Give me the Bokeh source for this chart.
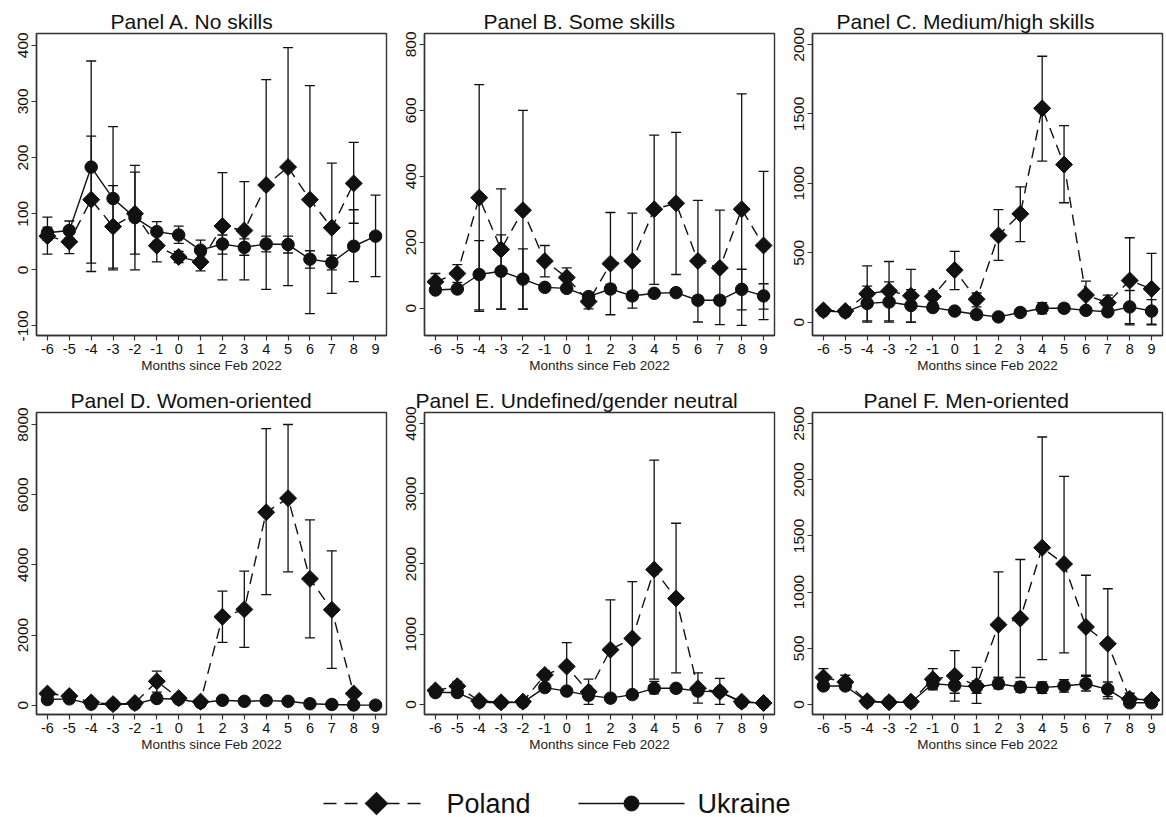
import math
from bokeh.plotting import figure
from bokeh.layouts import gridplot, column
from bokeh.models import (ColumnDataSource, Whisker, TeeHead, FixedTicker, Range1d)
from bokeh.core.properties import value
from bokeh.embed import file_html
from bokeh.resources import INLINE

nan = float("nan")
months = list(range(-6, 10))

# Panel A. No skills
a_pol = [60, 50, 125, 77, 100, 43, 23, 14, 78, 70, 151, 183, 125, 75, 154, nan]
a_pol_lo = [28, 29, 12, 3, 28, 14, 13, -2, -18, -18, -35, -28, -78, -42, 83, nan]
a_pol_hi = [94, 75, 238, 150, 174, 72, 33, 30, 173, 157, 339, 396, 328, 190, 227, nan]
a_ukr = [66, 70, 183, 127, 93, 68, 62, 35, 46, 40, 46, 45, 19, 13, 42, 60]
a_ukr_lo = [53, 57, -3, 0, 0, 50, 47, 18, 28, 26, 32, 30, 3, 0, -21, -12]
a_ukr_hi = [76, 87, 372, 255, 186, 86, 78, 53, 62, 55, 60, 60, 34, 26, 107, 133]

# Panel B. Some skills
b_pol = [80, 105, 335, 178, 297, 143, 93, 20, 135, 143, 300, 318, 143, 122, 300, 190]
b_pol_lo = [60, 78, -5, -3, -3, 95, 65, -2, -20, 0, 72, 102, -42, -50, -52, -35]
b_pol_hi = [105, 132, 678, 362, 600, 190, 122, 40, 290, 288, 525, 533, 327, 297, 650, 415]
b_ukr = [55, 58, 102, 112, 88, 63, 60, 35, 58, 37, 45, 47, 24, 24, 57, 37]
b_ukr_lo = [48, 50, -10, -3, -3, 55, 50, 25, 45, 25, 38, 40, 12, 12, -5, -3]
b_ukr_hi = [62, 66, 205, 222, 180, 70, 68, 45, 72, 50, 52, 54, 36, 36, 118, 74]

# Panel C. Medium/high skills
c_pol = [85, 80, 205, 225, 190, 185, 375, 165, 625, 780, 1540, 1135, 195, 140, 300, 240]
c_pol_lo = [65, 60, 0, 10, 0, 140, 235, 110, 445, 580, 1160, 860, 100, 90, -10, -20]
c_pol_hi = [105, 100, 405, 437, 380, 225, 510, 210, 810, 975, 1915, 1415, 295, 195, 608, 495]
c_ukr = [80, 72, 135, 145, 120, 105, 80, 55, 38, 70, 100, 100, 85, 75, 110, 80]
c_ukr_lo = [65, 58, 10, 0, 0, 85, 65, 45, 28, 50, 60, 70, 70, 60, -20, -15]
c_ukr_hi = [95, 86, 260, 290, 235, 125, 95, 65, 48, 90, 140, 130, 100, 90, 228, 163]

# Panel D. Women-oriented
d_pol = [330, 260, 80, 30, 60, 680, 200, 100, 2520, 2730, 5500, 5900, 3600, 2720, 330, nan]
d_pol_lo = [250, 180, 30, 10, 20, 370, 120, 40, 1790, 1650, 3150, 3800, 1920, 1050, 250, nan]
d_pol_hi = [410, 340, 130, 50, 100, 970, 280, 160, 3250, 3820, 7880, 8000, 5280, 4400, 410, nan]
d_ukr = [160, 180, 30, 20, 30, 190, 170, 70, 140, 110, 130, 110, 40, 20, 5, 0]
d_ukr_lo = [130, 150, 15, 10, 15, 150, 130, 50, 110, 80, 100, 80, 25, 10, 0, -5]
d_ukr_hi = [190, 210, 45, 30, 45, 230, 210, 90, 170, 140, 160, 140, 55, 30, 10, 5]

# Panel E. Undefined/gender neutral
e_pol = [200, 260, 50, 30, 40, 420, 540, 180, 780, 940, 1920, 1510, 230, 180, 40, 20]
e_pol_lo = [150, 200, 20, 15, 20, 350, 200, 0, 60, 180, 360, 450, 20, 0, 20, 10]
e_pol_hi = [250, 330, 80, 45, 60, 480, 880, 360, 1490, 1750, 3480, 2580, 450, 370, 60, 30]
e_ukr = [170, 170, 30, 25, 30, 240, 190, 130, 90, 140, 230, 230, 190, 180, 30, 20]
e_ukr_lo = [140, 140, 15, 15, 15, 200, 150, 90, 60, 100, 150, 180, 150, 140, 15, 10]
e_ukr_hi = [200, 200, 45, 35, 45, 280, 230, 170, 120, 180, 330, 280, 230, 220, 45, 30]

# Panel F. Men-oriented
f_pol = [240, 200, 30, 20, 25, 225, 255, 165, 710, 765, 1395, 1250, 690, 540, 50, 40]
f_pol_lo = [170, 140, 15, 10, 15, 140, 30, 10, 240, 240, 400, 460, 260, 50, 10, 10]
f_pol_hi = [320, 260, 45, 30, 35, 320, 480, 330, 1180, 1290, 2380, 2030, 1150, 1030, 100, 70]
f_ukr = [165, 165, 25, 20, 20, 185, 170, 155, 185, 155, 150, 165, 185, 135, 15, 15]
f_ukr_lo = [140, 140, 15, 10, 10, 130, 100, 100, 140, 110, 100, 110, 120, 70, 5, 5]
f_ukr_hi = [190, 190, 35, 30, 30, 240, 240, 210, 240, 200, 200, 220, 250, 200, 25, 25]

titles = ["Panel A. No skills", "Panel B. Some skills", "Panel C. Medium/high skills",
          "Panel D. Women-oriented", "Panel E. Undefined/gender neutral", "Panel F. Men-oriented"]
y_ticks = [[-100, 0, 100, 200, 300, 400], [0, 200, 400, 600, 800], [0, 500, 1000, 1500, 2000],
           [0, 2000, 4000, 6000, 8000], [0, 1000, 2000, 3000, 4000], [0, 500, 1000, 1500, 2000, 2500]]
y_ranges = [(-117, 421), (-83, 833), (-96, 2079), (-266, 8342), (-143, 4157), (-89, 2598)]
x_label = "Months since Feb 2022"
legend_labels = ["Poland", "Ukraine"]

# layout styling (title left offsets from frame edge, in px)
title_offsets = [74, 59, 24, 34, -9, 51]

FONT = "Liberation Sans"
INK = "#111111"


def src(x, y, lo, hi):
    keep = [i for i in range(len(x)) if not math.isnan(y[i])]
    return ColumnDataSource(dict(x=[x[i] for i in keep], y=[y[i] for i in keep],
                                 lo=[lo[i] for i in keep], hi=[hi[i] for i in keep]))


def panel(idx, pol, pol_lo, pol_hi, ukr, ukr_lo, ukr_hi, top_row):
    h = 385 if top_row else 375
    mt = 33 if top_row else 27
    p = figure(width=388, height=h, x_range=Range1d(-6.5, 9.5), y_range=Range1d(*y_ranges[idx]),
               output_backend="svg", toolbar_location=None,
               min_border_left=36, min_border_right=2, min_border_top=mt, min_border_bottom=h - mt - 302)
    p.title.text = titles[idx]
    p.title.align = "left"
    p.title.offset = title_offsets[idx]
    p.title.text_font = FONT
    p.title.text_font_size = "21px"
    p.title.text_font_style = "normal"
    p.title.text_color = INK
    p.title.standoff = 2
    p.grid.visible = False
    p.outline_line_color = "#333333"
    p.outline_line_width = 1.4
    p.background_fill_color = "white"
    p.border_fill_color = "white"

    for ax in (p.xaxis[0], p.yaxis[0]):
        ax.axis_line_color = "#333333"
        ax.axis_line_width = 1.4
        ax.major_tick_line_color = "#333333"
        ax.major_tick_line_width = 1.2
        ax.major_tick_out = 5
        ax.major_tick_in = 0
        ax.minor_tick_line_color = None
        ax.major_label_text_font = FONT
        ax.major_label_text_color = INK
        ax.major_label_standoff = 3
    p.xaxis.major_label_text_font_size = "14.5px"
    p.yaxis.major_label_text_font_size = "15.5px"
    p.xaxis.ticker = FixedTicker(ticks=months)
    p.xaxis.major_label_overrides = {m: str(m) for m in months}
    p.yaxis.ticker = FixedTicker(ticks=y_ticks[idx])
    p.yaxis.major_label_overrides = {t: str(t) for t in y_ticks[idx]}
    p.yaxis.major_label_orientation = "vertical"
    p.xaxis.axis_label = x_label
    p.xaxis.axis_label_text_font = FONT
    p.xaxis.axis_label_text_font_size = "13.5px"
    p.xaxis.axis_label_text_font_style = "normal"
    p.xaxis.axis_label_text_color = "#222222"
    p.xaxis.axis_label_standoff = 1

    sp = src(months, pol, pol_lo, pol_hi)
    su = src(months, ukr, ukr_lo, ukr_hi)
    for s in (sp, su):
        w = Whisker(source=s, base="x", lower="lo", upper="hi", dimension="height",
                    line_color=INK, line_width=1.3,
                    upper_head=TeeHead(size=10, line_color=INK, line_width=1.3),
                    lower_head=TeeHead(size=10, line_color=INK, line_width=1.3))
        p.add_layout(w)
    p.line("x", "y", source=sp, line_color=INK, line_width=1.4, line_dash="11 7")
    p.line("x", "y", source=su, line_color=INK, line_width=1.4)
    p.scatter("x", "y", source=sp, marker="square", angle=math.pi / 4, size=12,
              fill_color=INK, line_color=INK)
    p.scatter("x", "y", source=su, marker="circle", size=12.5, fill_color=INK, line_color=INK)
    return p


pa = panel(0, a_pol, a_pol_lo, a_pol_hi, a_ukr, a_ukr_lo, a_ukr_hi, True)
pb = panel(1, b_pol, b_pol_lo, b_pol_hi, b_ukr, b_ukr_lo, b_ukr_hi, True)
pc = panel(2, c_pol, c_pol_lo, c_pol_hi, c_ukr, c_ukr_lo, c_ukr_hi, True)
pd = panel(3, d_pol, d_pol_lo, d_pol_hi, d_ukr, d_ukr_lo, d_ukr_hi, False)
pe = panel(4, e_pol, e_pol_lo, e_pol_hi, e_ukr, e_ukr_lo, e_ukr_hi, False)
pf = panel(5, f_pol, f_pol_lo, f_pol_hi, f_ukr, f_ukr_lo, f_ukr_hi, False)

# legend strip: a key drawn in pixel space (x 0..1164, y 0..57)
lg = figure(width=1164, height=57, x_range=Range1d(0, 1164), y_range=Range1d(0, 57),
            output_backend="svg", toolbar_location=None,
            min_border_left=0, min_border_right=0, min_border_top=0, min_border_bottom=0)
lg.axis.visible = False
lg.grid.visible = False
lg.outline_line_color = None
ky = 14
lg.line(x=[323, 428], y=[ky, ky], line_color=INK, line_width=1.6, line_dash="13 8")
lg.scatter(x=[376], y=[ky], marker="square", angle=math.pi / 4, size=16, fill_color=INK, line_color=INK)
lg.text(x=[446], y=[ky], text=[legend_labels[0]], text_font=value(FONT), text_font_size="27px",
        text_color=INK, text_baseline="middle", text_align="left")
lg.line(x=[578, 684], y=[ky, ky], line_color=INK, line_width=1.6)
lg.scatter(x=[631], y=[ky], marker="circle", size=15, fill_color=INK, line_color=INK)
lg.text(x=[697], y=[ky], text=[legend_labels[1]], text_font=value(FONT), text_font_size="27px",
        text_color=INK, text_baseline="middle", text_align="left")

grid = gridplot([[pa, pb, pc], [pd, pe, pf]], toolbar_location=None)
layout = column(grid, lg, spacing=0)

open("out.html", "w").write(file_html(layout, INLINE))
